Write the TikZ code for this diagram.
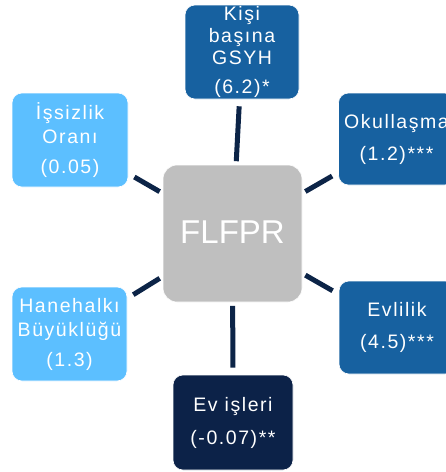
\documentclass[tikz,border=0pt]{standalone}
\usepackage{fontspec}
\setmainfont{Liberation Sans}
\newfontfamily\boxfont{Liberation Sans}[LetterSpace=8]
\definecolor{midblue}{HTML}{1761A0}
\definecolor{lightblue}{HTML}{5CBFFF}
\definecolor{darknavy}{HTML}{0C2248}
\definecolor{linenavy}{HTML}{0C2447}
\definecolor{centergray}{HTML}{BFBFBF}
\tikzset{
  box/.style={rectangle, rounded corners=10pt, inner sep=0pt, text=white, align=center,
    font=\boxfont\fontsize{19.5}{24}\selectfont, draw=white, line width=0.6pt},
  link/.style={draw=linenavy, line width=5pt, shorten <=3.5pt, shorten >=7pt},
}
\begin{document}
\begin{tikzpicture}[x=1pt, y=-1pt]
\useasboundingbox (0,0) rectangle (446,472);
\fill[white] (0,0) rectangle (446,472);
\clip (0,0) rectangle (446,472);
% centre
\node[box, fill=centergray, rounded corners=14pt, minimum width=139pt, minimum height=137pt,
  font=\fontsize{33}{40}\selectfont] (c) at (232.5,233.5) {\raisebox{2.5pt}{FLFPR}};
% outer boxes
\node[box, fill=midblue, minimum width=114pt, minimum height=94pt,
  font=\boxfont\fontsize{19.5}{22}\selectfont] (gdp) at (242,52)
  {Kişi\\başına\\GSYH\\[7pt](6.2)*};
\node[box, fill=lightblue, minimum width=116pt, minimum height=94pt] (unemp) at (70,140)
  {İşsizlik\\Oranı\\[6pt](0.05)};
\node[box, fill=midblue, minimum width=116pt, minimum height=92pt] (school) at (396.5,139)
  {Okullaşma\\[8pt](1.2)***};
\node[box, fill=lightblue, minimum width=115pt, minimum height=94pt] (house) at (69.5,334)
  {Hanehalkı\\Büyüklüğü\\[6pt](1.3)};
\node[box, fill=midblue, minimum width=116pt, minimum height=93pt] (marr) at (397,327.5)
  {Evlilik\\[8pt](4.5)***};
\node[box, fill=darknavy, minimum width=120pt, minimum height=95pt] (home) at (233,422.5)
  {Ev işleri\\[9pt](-0.07)**};
% connectors
\draw[link] (c) -- (gdp);
\draw[link] (c) -- (unemp);
\draw[link] (c) -- (school);
\draw[link] (c) -- (house);
\draw[link] (c) -- (marr);
\draw[link] (c) -- (home);
\end{tikzpicture}
\end{document}
